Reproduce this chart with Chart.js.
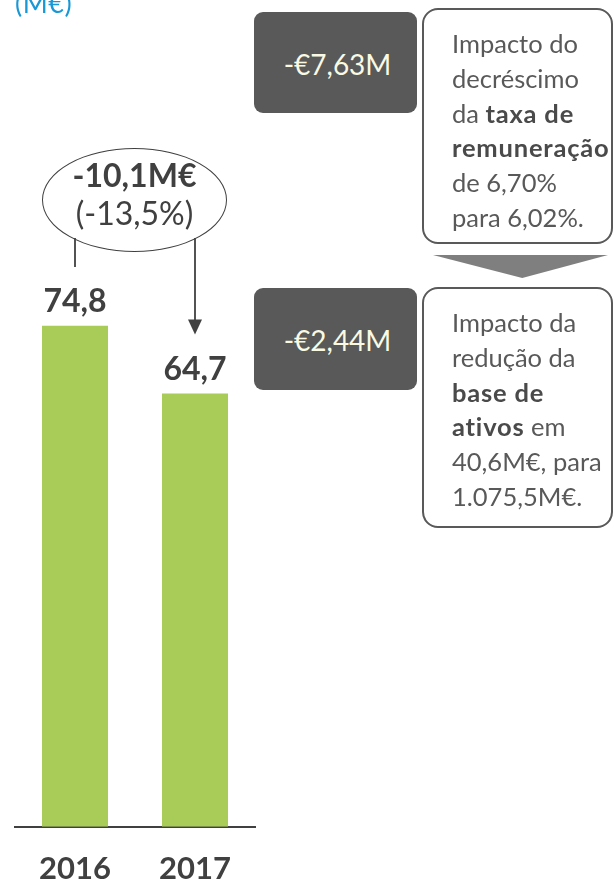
<!DOCTYPE html>
<html>
<head>
<meta charset="utf-8">
<script src="https://cdn.jsdelivr.net/npm/chart.js@4.4.1/dist/chart.umd.min.js"></script>
<style>
  html, body { margin:0; padding:0; background:#fff; overflow:hidden; }
  #wrap { position:relative; width:614px; height:887px; overflow:hidden; font-family:Lato, "Open Sans", sans-serif; }
  canvas { position:absolute; left:0; top:0; }
  .ov { position:absolute; box-sizing:border-box; }
  #unit { left:15px; top:-13px; font-size:27px; color:#1A98D5; line-height:32px; letter-spacing:0.5px; }
  #ell { left:42px; top:148px; width:185px; height:104px; border:1.6px solid #404040; border-radius:50%; color:#404040; }
  #ell .l1 { position:absolute; left:0; right:0; top:7px; text-align:center; font-weight:bold; font-size:32px; line-height:38px; }
  #ell .l2 { position:absolute; left:0; right:0; top:45px; text-align:center; font-size:32px; line-height:38px; }
  .dark { background:#595959; border-radius:9px; color:#FAFAE4; font-size:28px; display:flex; align-items:center; justify-content:center; padding-top:2px; padding-left:4px; }
  .note { border:2px solid #595959; border-radius:16px; color:#595959; font-size:25.5px; line-height:34.8px; padding:16px 0 0 28px; white-space:nowrap; }
  .note b { color:#4a4a4a; letter-spacing:0.8px; }
  #tri { left:433px; top:255px; width:175px; height:23px; background:#7F7F7F; clip-path:polygon(0 0,100% 0,51% 100%); }
</style>
</head>
<body>
<div id="wrap">
  <canvas id="c" width="614" height="912"></canvas>
  <div class="ov" id="unit">(M€)</div>
  <div class="ov" id="ell"><div class="l1">-10,1M€</div><div class="l2">(-13,5%)</div></div>
  <div class="ov dark" style="left:254px;top:12px;width:163px;height:101px;">-€7,63M</div>
  <div class="ov note" style="left:422px;top:8px;width:191px;height:236px;">Impacto do<br>decréscimo<br>da <b>taxa de</b><br><b>remuneração</b><br>de 6,70%<br>para 6,02%.</div>
  <div class="ov" id="tri"></div>
  <div class="ov dark" style="left:254px;top:288px;width:163px;height:102px;">-€2,44M</div>
  <div class="ov note" style="left:422px;top:287px;width:191px;height:241px;">Impacto da<br>redução da<br><b>base de</b><br><b>ativos</b> em<br>40,6M€, para<br>1.075,5M€.</div>
</div>
<script>
const categories = ['2016', '2017'];
const values = [74.8, 64.7];
const valueLabels = ['74,8', '64,7'];

const labelPlugin = {
  id: 'valueLabels',
  afterDatasetsDraw(chart) {
    const ctx = chart.ctx;
    const meta = chart.getDatasetMeta(0);
    ctx.save();
    ctx.font = 'bold 32px Lato, sans-serif';
    ctx.fillStyle = '#404040';
    ctx.textAlign = 'center';
    ctx.textBaseline = 'middle';
    meta.data.forEach((bar, i) => {
      ctx.fillText(valueLabels[i], bar.x, bar.y - 24);
    });
    // connectors from the change bubble
    const b1 = meta.data[0], b2 = meta.data[1];
    ctx.strokeStyle = '#404040';
    ctx.fillStyle = '#404040';
    ctx.lineWidth = 1.8;
    ctx.beginPath();
    ctx.moveTo(b1.x, 238);
    ctx.lineTo(b1.x, 267);
    ctx.stroke();
    const tip = b2.y - 59;
    ctx.beginPath();
    ctx.moveTo(b2.x, 238);
    ctx.lineTo(b2.x, tip - 12);
    ctx.stroke();
    ctx.beginPath();
    ctx.moveTo(b2.x - 7, tip - 15);
    ctx.lineTo(b2.x + 7, tip - 15);
    ctx.lineTo(b2.x, tip);
    ctx.closePath();
    ctx.fill();
    ctx.restore();
  }
};

new Chart(document.getElementById('c'), {
  type: 'bar',
  data: {
    labels: categories,
    datasets: [{
      data: values,
      backgroundColor: '#A9CB58',
      barPercentage: 0.55,
      categoryPercentage: 1.0
    }]
  },
  options: {
    responsive: false,
    animation: false,
    layout: { padding: { top: 157, left: 15, right: 359, bottom: 0 } },
    plugins: { legend: { display: false }, tooltip: { enabled: false } },
    scales: {
      x: {
        grid: { display: false, drawTicks: false },
        border: { display: true, color: '#404040', width: 2 },
        ticks: { font: { family: 'Lato', weight: 'bold', size: 31 }, color: '#404040', padding: 24 }
      },
      y: { display: false, min: 0, max: 100 }
    }
  },
  plugins: [labelPlugin]
});
</script>
</body>
</html>
